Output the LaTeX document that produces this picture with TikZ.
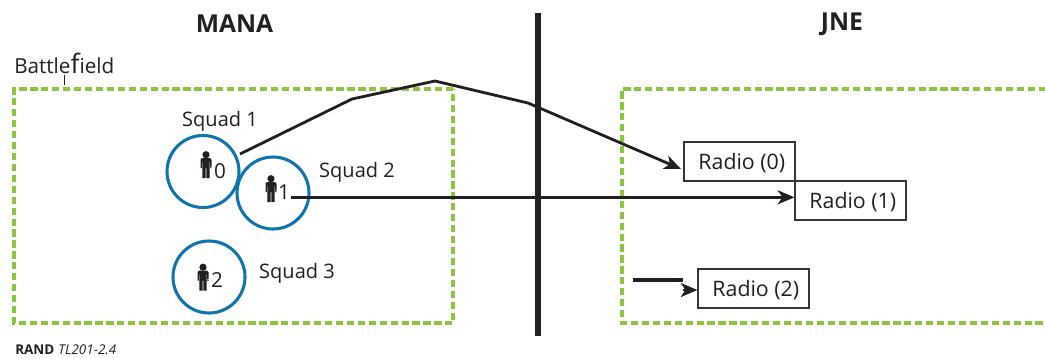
\documentclass[tikz,border=0pt]{standalone}
\usepackage{fontspec}
\setmainfont{Open Sans}
\usetikzlibrary{arrows.meta}
\definecolor{rgreen}{HTML}{8CC63F}
\definecolor{rblue}{HTML}{0F75AE}
\definecolor{rink}{HTML}{231F20}
\tikzset{
  fieldbox/.style={draw=rgreen,line width=2.4pt,dash pattern=on 5.4pt off 2.8pt},
  squad/.style={circle,draw=rblue,line width=2.3pt,minimum size=54pt,inner sep=0pt},
  radio/.style={draw=rink!90,line width=1.1pt,minimum width=83pt,minimum height=29pt,inner sep=0pt,text=rink,font=\fontsize{16}{18}\selectfont},
  lab/.style={text=rink,font=\fontsize{15}{18}\selectfont,inner sep=0pt},
  num/.style={text=rink,font=\fontsize{15.5}{18}\selectfont,inner sep=0pt},
  head/.style={text=rink,font=\fontsize{18.5}{22}\selectfont\bfseries,inner sep=0pt},
  link/.style={draw=rink,line width=2.1pt,-{Stealth[length=12.5pt,width=10.5pt,inset=3.5pt]}},
  person/.pic={
    \fill[rink] (0,-10.3) circle (2.7pt);
    \fill[rink,rounded corners=1.2pt] (-5.5,3) -- (-5.5,-7) -- (5.5,-7) -- (5.5,3) -- (4.2,3) [sharp corners] -- (4.2,-3) -- (3.7,-3) -- (3.7,13) -- (0.4,13) -- (0.4,3) -- (-0.4,3) -- (-0.4,13) -- (-3.7,13) -- (-3.7,-3) -- (-4.2,-3) -- (-4.2,3) -- cycle;
  }
}
\newcommand{\radiotext}[1]{\hspace*{3.5pt}\raisebox{-6.2pt}[0pt][0pt]{#1}}
\begin{document}
\begin{tikzpicture}[x=0.75pt,y=-0.75pt]
\useasboundingbox (0,0) rectangle (1045,358);
\node[head] (mana) at (234.5,24) {MANA};
\node[head] (jne) at (842,24) {JNE};
\node[lab,anchor=west,font=\fontsize{15.5}{18}\selectfont] (bf) at (14,63) {Battle{\fontsize{20}{18}\selectfont f}ield};
\coordinate (tickA) at (64,75);
\coordinate (tickB) at (64,85);
\draw[rink,line width=0.7pt] (tickA) -- (tickB);
\draw[fieldbox] (453,89) -- (14,89) -- (14,323) -- (453,323) -- cycle;
\draw[fieldbox] (1046,89) -- (622,89) -- (622,323) -- (1046,323);
\coordinate (barA) at (538,13);
\coordinate (barB) at (538,336);
\draw[rink,line width=4pt] (barA) -- (barB);
\node[squad] (c0) at (203,171.5) {};
\node[squad] (c1) at (273,193) {};
\node[squad] (c2) at (209,277) {};
\pic at (206,165) {person};
\pic at (271,189) {person};
\pic at (203,277.5) {person};
\node[num] (n0) at (220,171) {0};
\node[num] (n1) at (284,192) {1};
\node[num] (n2) at (217,280) {2};
\node[lab] (s1) at (220,121) {Squad 1};
\node[lab] (s2) at (357,172) {Squad 2};
\node[lab] (s3) at (297,273) {Squad 3};
\node[radio] (r0) at (739.5,161.5) {\radiotext{Radio (0)}};
\node[radio] (r1) at (850.5,200.5) {\radiotext{Radio (1)}};
\node[radio] (r2) at (753.5,288.5) {\radiotext{Radio (2)}};
\coordinate (a0) at (240,154);
\coordinate (a1) at (352,99);
\coordinate (a2) at (435,81);
\coordinate (a3) at (528,103);
\coordinate (a4) at (681,169);
\draw[link] (a0) -- (a1) -- (a2) -- (a3) -- (a4);
\coordinate (b0) at (291,197.3);
\coordinate (b1) at (r1.west |- b0);
\draw[link,line width=2.3pt] (b0) -- (b1);
\coordinate (d0) at (633,280);
\coordinate (d1) at (683,280);
\draw[rink,line width=2.9pt] (d0) -- (d1);
\coordinate (e0) at (683,290);
\coordinate (e1) at (r2.west |- e0);
\draw[link] (e0) -- (e1);
\node[anchor=west,inner sep=0pt,text=rink,font=\fontsize{10.1}{11}\selectfont] (rand) at (15,350) {\textbf{RAND}\hspace{3pt}{\itshape TL201-2.4}};
\end{tikzpicture}
\end{document}
